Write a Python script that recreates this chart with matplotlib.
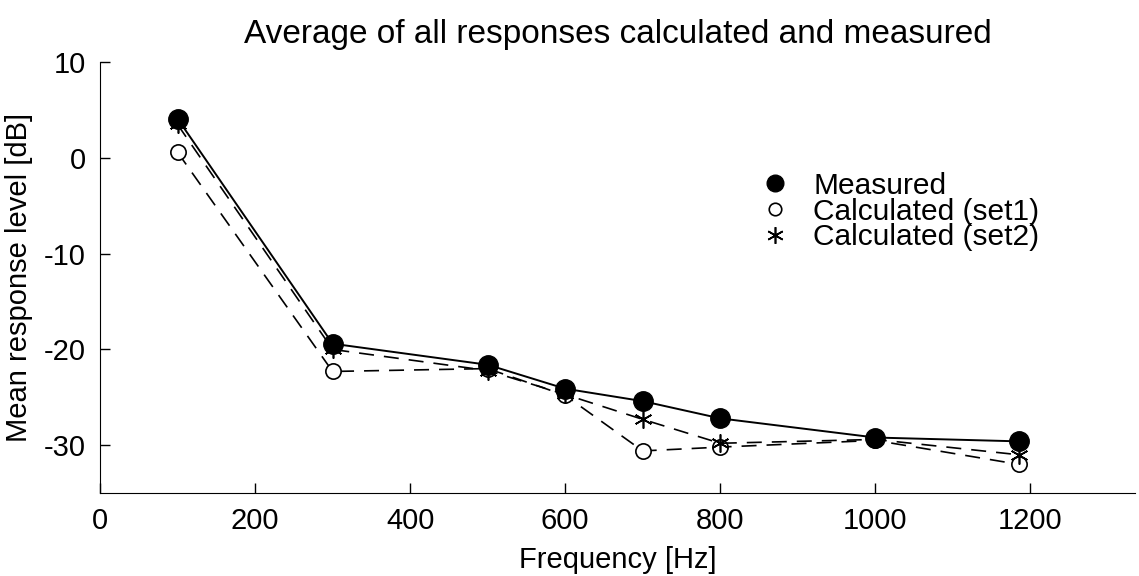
import matplotlib
matplotlib.use("Agg")
import matplotlib.pyplot as plt

plt.rcParams["font.family"] = ["Liberation Sans", "DejaVu Sans"]
plt.rcParams["font.size"] = 20
plt.rcParams["axes.unicode_minus"] = False

freq = [100, 300, 500, 600, 700, 800, 1000, 1185]
measured = [4.1, -19.4, -21.6, -24.1, -25.4, -27.2, -29.2, -29.6]
calc_set1 = [0.6, -22.3, -22.0, -24.8, -30.6, -30.2, -29.5, -32.0]
calc_set2 = [3.5, -20.0, -22.2, -24.7, -27.3, -29.8, -29.4, -31.0]

fig = plt.figure(figsize=(11.39, 5.76), dpi=100)
ax = fig.add_axes([0.0878, 0.144, 0.9087, 0.748])

# calculated first so the measured curve sits on top
ax.plot(freq, calc_set1, color="black", lw=1.2, dashes=(9, 6),
        marker="o", ms=11, mfc="white", mec="black", mew=1.2, zorder=2)
ax.plot(freq, calc_set2, color="black", lw=1.2, dashes=(9, 6),
        marker=(6, 2, 0), ms=13, mec="black", mew=1.2, zorder=3)
ax.plot(freq, measured, color="black", lw=1.4,
        marker="o", ms=14, mfc="black", mec="black", zorder=4)

ax.set_xlim(0, 1335)
ax.set_ylim(-35, 10)
ax.set_xticks([0, 200, 400, 600, 800, 1000, 1200])
ax.set_yticks([-30, -20, -10, 0, 10])
ax.tick_params(direction="in", length=7, width=1, pad=10, labelsize=21)
for s in ["top", "right"]:
    ax.spines[s].set_visible(False)

ax.set_xlabel("Frequency [Hz]", labelpad=8, fontsize=21)
ax.set_ylabel("Mean response level [dB]", labelpad=8, fontsize=21)
ax.set_title("Average of all responses calculated and measured", pad=14)

h1, = ax.plot([], [], ls="none", marker="o", ms=12, mfc="black", mec="black")
h2, = ax.plot([], [], ls="none", marker="o", ms=9, mfc="white", mec="black", mew=1.2)
h3, = ax.plot([], [], ls="none", marker=(6, 2, 0), ms=12, mec="black", mew=1.2)
ax.legend([h1, h2, h3], ["Measured", "Calculated (set1)", "Calculated (set2)"],
          frameon=False, loc="upper left", bbox_to_anchor=(0.623, 0.78),
          handlelength=1.0, handletextpad=0.8, labelspacing=-0.08,
          borderpad=0, fontsize=21.5)

fig.savefig("out.png", dpi=100)
